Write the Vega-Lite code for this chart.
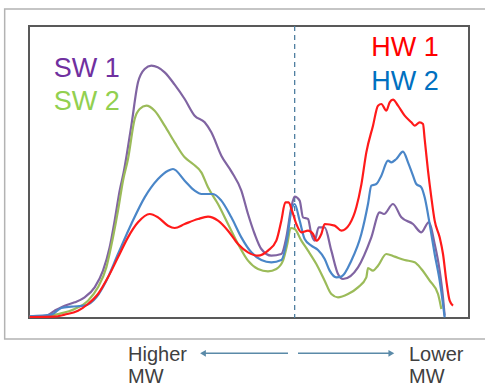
{
  "$schema": "https://vega.github.io/schema/vega-lite/v6.json",
  "width": 440,
  "height": 292,
  "autosize": "none",
  "padding": {"left": 29, "top": 26, "right": 16, "bottom": 68},
  "background": "white",
  "config": {"view": {"stroke": "#595959", "strokeWidth": 2}, "font": "Liberation Sans"},
  "datasets": {
    "curves": [
      {"series": "SW 1", "x": 2, "y": 5}, {"series": "SW 1", "x": 47, "y": 5}, {"series": "SW 1", "x": 77, "y": 22}, {"series": "SW 1", "x": 107, "y": 37}, {"series": "SW 1", "x": 137, "y": 47}, {"series": "SW 1", "x": 167, "y": 62}, {"series": "SW 1", "x": 197, "y": 92}, {"series": "SW 1", "x": 222, "y": 142}, {"series": "SW 1", "x": 242, "y": 212}, {"series": "SW 1", "x": 257, "y": 292}, {"series": "SW 1", "x": 272, "y": 382}, {"series": "SW 1", "x": 284, "y": 437}, {"series": "SW 1", "x": 307, "y": 577}, {"series": "SW 1", "x": 327, "y": 707}, {"series": "SW 1", "x": 347, "y": 747}, {"series": "SW 1", "x": 367, "y": 757}, {"series": "SW 1", "x": 407, "y": 737}, {"series": "SW 1", "x": 437, "y": 700}, {"series": "SW 1", "x": 467, "y": 657}, {"series": "SW 1", "x": 497, "y": 607}, {"series": "SW 1", "x": 527, "y": 587}, {"series": "SW 1", "x": 547, "y": 557}, {"series": "SW 1", "x": 577, "y": 487}, {"series": "SW 1", "x": 607, "y": 440}, {"series": "SW 1", "x": 637, "y": 382}, {"series": "SW 1", "x": 657, "y": 312}, {"series": "SW 1", "x": 677, "y": 252}, {"series": "SW 1", "x": 697, "y": 207}, {"series": "SW 1", "x": 727, "y": 187}, {"series": "SW 1", "x": 757, "y": 192}, {"series": "SW 1", "x": 772, "y": 242}, {"series": "SW 1", "x": 787, "y": 332}, {"series": "SW 1", "x": 797, "y": 364}, {"series": "SW 1", "x": 812, "y": 352}, {"series": "SW 1", "x": 822, "y": 302}, {"series": "SW 1", "x": 837, "y": 297}, {"series": "SW 1", "x": 847, "y": 252}, {"series": "SW 1", "x": 857, "y": 232}, {"series": "SW 1", "x": 869, "y": 272}, {"series": "SW 1", "x": 887, "y": 272}, {"series": "SW 1", "x": 907, "y": 202}, {"series": "SW 1", "x": 927, "y": 132}, {"series": "SW 1", "x": 942, "y": 117}, {"series": "SW 1", "x": 987, "y": 152}, {"series": "SW 1", "x": 1027, "y": 242}, {"series": "SW 1", "x": 1052, "y": 317}, {"series": "SW 1", "x": 1065, "y": 312}, {"series": "SW 1", "x": 1092, "y": 342}, {"series": "SW 1", "x": 1117, "y": 302}, {"series": "SW 1", "x": 1152, "y": 282}, {"series": "SW 1", "x": 1177, "y": 257}, {"series": "SW 1", "x": 1199, "y": 287}, {"series": "SW 1", "x": 1217, "y": 222}, {"series": "SW 1", "x": 1232, "y": 142}, {"series": "SW 1", "x": 1242, "y": 62}, {"series": "SW 1", "x": 1247, "y": 7},
      {"series": "SW 2", "x": 2, "y": 4}, {"series": "SW 2", "x": 52, "y": 5}, {"series": "SW 2", "x": 87, "y": 12}, {"series": "SW 2", "x": 137, "y": 27}, {"series": "SW 2", "x": 177, "y": 52}, {"series": "SW 2", "x": 207, "y": 92}, {"series": "SW 2", "x": 232, "y": 152}, {"series": "SW 2", "x": 252, "y": 242}, {"series": "SW 2", "x": 267, "y": 322}, {"series": "SW 2", "x": 282, "y": 412}, {"series": "SW 2", "x": 297, "y": 477}, {"series": "SW 2", "x": 317, "y": 597}, {"series": "SW 2", "x": 332, "y": 627}, {"series": "SW 2", "x": 352, "y": 637}, {"series": "SW 2", "x": 377, "y": 622}, {"series": "SW 2", "x": 407, "y": 577}, {"series": "SW 2", "x": 437, "y": 527}, {"series": "SW 2", "x": 467, "y": 482}, {"series": "SW 2", "x": 492, "y": 462}, {"series": "SW 2", "x": 517, "y": 437}, {"series": "SW 2", "x": 537, "y": 392}, {"series": "SW 2", "x": 567, "y": 342}, {"series": "SW 2", "x": 597, "y": 282}, {"series": "SW 2", "x": 627, "y": 222}, {"series": "SW 2", "x": 657, "y": 172}, {"series": "SW 2", "x": 687, "y": 147}, {"series": "SW 2", "x": 717, "y": 140}, {"series": "SW 2", "x": 742, "y": 147}, {"series": "SW 2", "x": 762, "y": 172}, {"series": "SW 2", "x": 775, "y": 222}, {"series": "SW 2", "x": 785, "y": 270}, {"series": "SW 2", "x": 797, "y": 267}, {"series": "SW 2", "x": 817, "y": 232}, {"series": "SW 2", "x": 837, "y": 202}, {"series": "SW 2", "x": 862, "y": 162}, {"series": "SW 2", "x": 887, "y": 112}, {"series": "SW 2", "x": 907, "y": 72}, {"series": "SW 2", "x": 927, "y": 62}, {"series": "SW 2", "x": 957, "y": 72}, {"series": "SW 2", "x": 987, "y": 92}, {"series": "SW 2", "x": 1012, "y": 122}, {"series": "SW 2", "x": 1017, "y": 150}, {"series": "SW 2", "x": 1032, "y": 142}, {"series": "SW 2", "x": 1047, "y": 157}, {"series": "SW 2", "x": 1072, "y": 192}, {"series": "SW 2", "x": 1097, "y": 184}, {"series": "SW 2", "x": 1127, "y": 174}, {"series": "SW 2", "x": 1157, "y": 167}, {"series": "SW 2", "x": 1177, "y": 147}, {"series": "SW 2", "x": 1202, "y": 112}, {"series": "SW 2", "x": 1227, "y": 72}, {"series": "SW 2", "x": 1237, "y": 27},
      {"series": "HW 2", "x": 2, "y": 5}, {"series": "HW 2", "x": 67, "y": 10}, {"series": "HW 2", "x": 97, "y": 30}, {"series": "HW 2", "x": 127, "y": 34}, {"series": "HW 2", "x": 167, "y": 37}, {"series": "HW 2", "x": 202, "y": 62}, {"series": "HW 2", "x": 232, "y": 112}, {"series": "HW 2", "x": 267, "y": 192}, {"series": "HW 2", "x": 307, "y": 282}, {"series": "HW 2", "x": 347, "y": 362}, {"series": "HW 2", "x": 387, "y": 417}, {"series": "HW 2", "x": 417, "y": 442}, {"series": "HW 2", "x": 432, "y": 447}, {"series": "HW 2", "x": 467, "y": 412}, {"series": "HW 2", "x": 497, "y": 382}, {"series": "HW 2", "x": 517, "y": 372}, {"series": "HW 2", "x": 552, "y": 372}, {"series": "HW 2", "x": 577, "y": 352}, {"series": "HW 2", "x": 607, "y": 302}, {"series": "HW 2", "x": 637, "y": 242}, {"series": "HW 2", "x": 667, "y": 197}, {"series": "HW 2", "x": 697, "y": 174}, {"series": "HW 2", "x": 727, "y": 167}, {"series": "HW 2", "x": 757, "y": 174}, {"series": "HW 2", "x": 775, "y": 242}, {"series": "HW 2", "x": 787, "y": 322}, {"series": "HW 2", "x": 797, "y": 342}, {"series": "HW 2", "x": 812, "y": 292}, {"series": "HW 2", "x": 827, "y": 237}, {"series": "HW 2", "x": 847, "y": 217}, {"series": "HW 2", "x": 867, "y": 204}, {"series": "HW 2", "x": 887, "y": 177}, {"series": "HW 2", "x": 902, "y": 142}, {"series": "HW 2", "x": 922, "y": 122}, {"series": "HW 2", "x": 937, "y": 124}, {"series": "HW 2", "x": 967, "y": 172}, {"series": "HW 2", "x": 997, "y": 252}, {"series": "HW 2", "x": 1017, "y": 342}, {"series": "HW 2", "x": 1027, "y": 397}, {"series": "HW 2", "x": 1042, "y": 402}, {"series": "HW 2", "x": 1057, "y": 427}, {"series": "HW 2", "x": 1077, "y": 472}, {"series": "HW 2", "x": 1087, "y": 467}, {"series": "HW 2", "x": 1102, "y": 477}, {"series": "HW 2", "x": 1122, "y": 499}, {"series": "HW 2", "x": 1137, "y": 467}, {"series": "HW 2", "x": 1152, "y": 427}, {"series": "HW 2", "x": 1162, "y": 402}, {"series": "HW 2", "x": 1177, "y": 392}, {"series": "HW 2", "x": 1187, "y": 362}, {"series": "HW 2", "x": 1202, "y": 282}, {"series": "HW 2", "x": 1217, "y": 192}, {"series": "HW 2", "x": 1232, "y": 112}, {"series": "HW 2", "x": 1242, "y": 42}, {"series": "HW 2", "x": 1247, "y": 2},
      {"series": "HW 1", "x": 2, "y": 3}, {"series": "HW 1", "x": 77, "y": 4}, {"series": "HW 1", "x": 107, "y": 10}, {"series": "HW 1", "x": 147, "y": 22}, {"series": "HW 1", "x": 177, "y": 42}, {"series": "HW 1", "x": 207, "y": 72}, {"series": "HW 1", "x": 237, "y": 122}, {"series": "HW 1", "x": 267, "y": 182}, {"series": "HW 1", "x": 297, "y": 242}, {"series": "HW 1", "x": 327, "y": 287}, {"series": "HW 1", "x": 362, "y": 312}, {"series": "HW 1", "x": 387, "y": 302}, {"series": "HW 1", "x": 417, "y": 277}, {"series": "HW 1", "x": 437, "y": 270}, {"series": "HW 1", "x": 467, "y": 282}, {"series": "HW 1", "x": 507, "y": 297}, {"series": "HW 1", "x": 537, "y": 304}, {"series": "HW 1", "x": 567, "y": 292}, {"series": "HW 1", "x": 597, "y": 262}, {"series": "HW 1", "x": 627, "y": 222}, {"series": "HW 1", "x": 657, "y": 197}, {"series": "HW 1", "x": 687, "y": 187}, {"series": "HW 1", "x": 717, "y": 202}, {"series": "HW 1", "x": 742, "y": 232}, {"series": "HW 1", "x": 757, "y": 292}, {"series": "HW 1", "x": 769, "y": 347}, {"series": "HW 1", "x": 779, "y": 347}, {"series": "HW 1", "x": 789, "y": 322}, {"series": "HW 1", "x": 802, "y": 282}, {"series": "HW 1", "x": 817, "y": 257}, {"series": "HW 1", "x": 837, "y": 262}, {"series": "HW 1", "x": 852, "y": 252}, {"series": "HW 1", "x": 862, "y": 232}, {"series": "HW 1", "x": 877, "y": 252}, {"series": "HW 1", "x": 887, "y": 282}, {"series": "HW 1", "x": 917, "y": 277}, {"series": "HW 1", "x": 937, "y": 262}, {"series": "HW 1", "x": 962, "y": 282}, {"series": "HW 1", "x": 982, "y": 332}, {"series": "HW 1", "x": 997, "y": 400}, {"series": "HW 1", "x": 1012, "y": 497}, {"series": "HW 1", "x": 1032, "y": 577}, {"series": "HW 1", "x": 1047, "y": 637}, {"series": "HW 1", "x": 1057, "y": 642}, {"series": "HW 1", "x": 1072, "y": 622}, {"series": "HW 1", "x": 1082, "y": 647}, {"series": "HW 1", "x": 1092, "y": 655}, {"series": "HW 1", "x": 1107, "y": 637}, {"series": "HW 1", "x": 1127, "y": 607}, {"series": "HW 1", "x": 1147, "y": 587}, {"series": "HW 1", "x": 1157, "y": 577}, {"series": "HW 1", "x": 1172, "y": 587}, {"series": "HW 1", "x": 1182, "y": 582}, {"series": "HW 1", "x": 1187, "y": 537}, {"series": "HW 1", "x": 1197, "y": 442}, {"series": "HW 1", "x": 1207, "y": 362}, {"series": "HW 1", "x": 1217, "y": 292}, {"series": "HW 1", "x": 1232, "y": 242}, {"series": "HW 1", "x": 1242, "y": 192}, {"series": "HW 1", "x": 1252, "y": 112}, {"series": "HW 1", "x": 1262, "y": 52}, {"series": "HW 1", "x": 1272, "y": 37}
    ],
    "labels": [
      {"series": "SW 1", "x": 74, "y": 747},
      {"series": "SW 2", "x": 74, "y": 647},
      {"series": "HW 1", "x": 1027, "y": 809},
      {"series": "HW 2", "x": 1027, "y": 709}
    ],
    "axisText": [
      {"label": "Higher", "x": 297, "y": -110},
      {"label": "MW", "x": 297, "y": -176},
      {"label": "Lower", "x": 1140, "y": -110},
      {"label": "MW", "x": 1140, "y": -176}
    ],
    "arrows": [
      {"dir": "left", "x1": 524, "x2": 777, "head": 522, "y": -106},
      {"dir": "right", "x1": 807, "x2": 1085, "head": 1087, "y": -106}
    ],
    "frame": [{"x1": -73, "x2": 1380, "y1": -63, "y2": 927}],
    "divider": [{"x": 797}]
  },
  "layer": [
    {
      "data": {"name": "frame"},
      "mark": {"type": "rect", "fill": null, "stroke": "#b3b3b3", "strokeWidth": 1.5, "clip": false},
      "encoding": {
        "x": {"field": "x1", "type": "quantitative", "scale": {"domain": [0, 1320], "nice": false, "zero": false}, "axis": null},
        "x2": {"field": "x2"},
        "y": {"field": "y1", "type": "quantitative", "scale": {"domain": [0, 876], "nice": false, "zero": false}, "axis": null},
        "y2": {"field": "y2"}
      }
    },
    {
      "data": {"name": "divider"},
      "mark": {"type": "rule", "stroke": "#4f7fa0", "strokeWidth": 1.3, "strokeDash": [5, 4]},
      "encoding": {
        "x": {"field": "x", "type": "quantitative"}
      }
    },
    {
      "data": {"name": "curves"},
      "mark": {"type": "line", "interpolate": "monotone", "strokeWidth": 2.2},
      "encoding": {
        "x": {"field": "x", "type": "quantitative"},
        "y": {"field": "y", "type": "quantitative"},
        "detail": {"field": "series"},
        "color": {"field": "series", "type": "nominal", "legend": null,
          "scale": {"domain": ["SW 1", "SW 2", "HW 1", "HW 2"], "range": ["#8064a2", "#9bbb59", "#ff1a1a", "#4a86c8"]}},
        "order": {"value": 0}
      }
    },
    {
      "data": {"name": "labels"},
      "mark": {"type": "text", "align": "left", "baseline": "middle", "fontSize": 27, "font": "Liberation Sans"},
      "encoding": {
        "x": {"field": "x", "type": "quantitative"},
        "y": {"field": "y", "type": "quantitative"},
        "text": {"field": "series"},
        "fill": {"field": "series", "type": "nominal", "legend": null,
          "scale": {"domain": ["SW 1", "SW 2", "HW 1", "HW 2"], "range": ["#7030a0", "#92d050", "#ff0000", "#0070c0"]}}
      }
    },
    {
      "data": {"name": "axisText"},
      "mark": {"type": "text", "align": "left", "baseline": "middle", "fontSize": 20, "font": "Liberation Sans", "fill": "#404040", "clip": false},
      "encoding": {
        "x": {"field": "x", "type": "quantitative"},
        "y": {"field": "y", "type": "quantitative"},
        "text": {"field": "label"}
      }
    },
    {
      "data": {"name": "arrows"},
      "mark": {"type": "rule", "stroke": "#5a8aa8", "strokeWidth": 1.5, "clip": false},
      "encoding": {
        "x": {"field": "x1", "type": "quantitative"},
        "x2": {"field": "x2"},
        "y": {"field": "y", "type": "quantitative"}
      }
    },
    {
      "data": {"name": "arrows"},
      "mark": {"type": "point", "filled": true, "fill": "#5a8aa8", "opacity": 1, "size": 45, "clip": false},
      "encoding": {
        "x": {"field": "head", "type": "quantitative"},
        "y": {"field": "y", "type": "quantitative"},
        "shape": {"field": "dir", "type": "nominal", "legend": null,
          "scale": {"domain": ["left", "right"], "range": ["triangle-left", "triangle-right"]}}
      }
    }
  ],
  "resolve": {"scale": {"color": "independent", "fill": "independent"}}
}
